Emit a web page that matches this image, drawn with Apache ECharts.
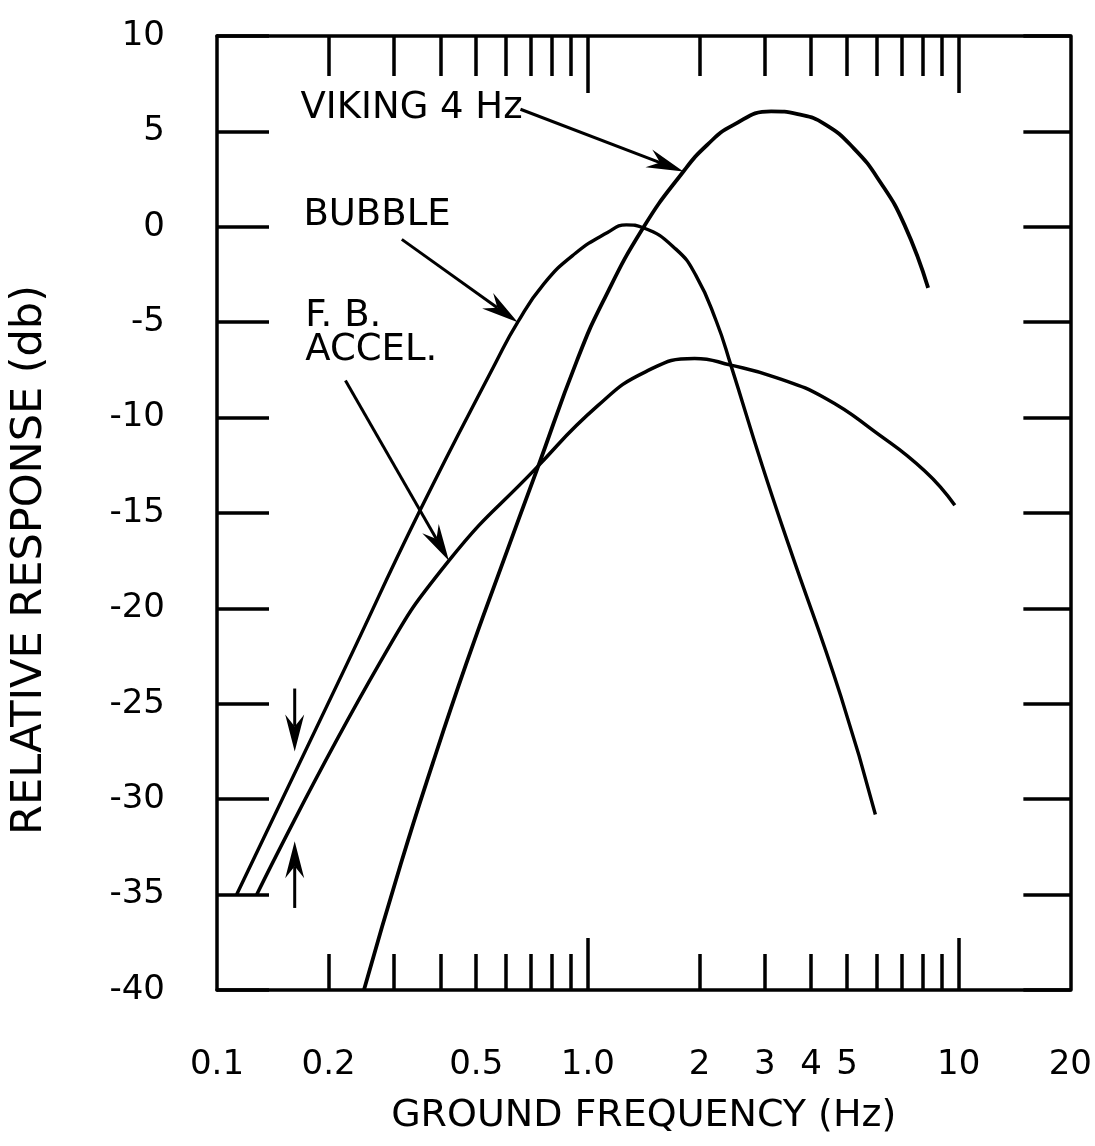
<!DOCTYPE html>
<html>
<head>
<meta charset="utf-8">
<title>Relative response vs ground frequency</title>
<script src="https://cdn.jsdelivr.net/npm/echarts@6/dist/echarts.min.js"></script>
<style>
  html, body { margin: 0; padding: 0; background: #fff; }
  #chart { width: 1095px; height: 1146px; }
</style>
</head>
<body>
<div id="chart"></div>
<script>
// values: frequency in Hz, response in dB
const vikingFreq = [0.249, 0.313, 0.382, 0.470, 0.582, 0.73, 0.935, 1.10, 1.41, 1.81, 2.10, 2.45, 3.12, 3.68, 4.34, 5.22, 6.14, 7.14, 8.27];
const vikingDb = [-40.0, -33.4, -28.1, -22.9, -17.9, -12.7, -7.0, -3.9, -0.05, 2.9, 4.3, 5.3, 6.05, 5.9, 5.4, 4.1, 2.35, 0.1, -3.2];

const bubbleFreq = [0.113, 0.223, 0.352, 0.565, 0.647, 0.76, 0.924, 1.13, 1.27, 1.41, 1.727, 1.957, 2.22, 2.43, 2.95, 3.49, 4.81, 5.96];
const bubbleDb = [-35, -23.0, -14.9, -7.1, -5.0, -3.0, -1.4, -0.3, 0.1, -0.05, -1.17, -2.56, -4.95, -7.25, -12.5, -16.75, -24.6, -30.8];

const accelFreq = [0.128, 0.274, 0.422, 0.721, 1.06, 1.43, 1.94, 2.43, 3.22, 4.38, 5.95, 8.1, 9.76];
const accelDb = [-35, -22.9, -17.5, -12.7, -9.4, -7.6, -6.9, -7.25, -7.9, -9.0, -10.75, -12.8, -14.6];

const freqTicks = [0.1, 0.2, 0.5, 1, 2, 3, 4, 5, 10, 20];
const freqTickLabels = ['0.1', '0.2', '0.5', '1.0', '2', '3', '4', '5', '10', '20'];
const gridTicks = [0.2, 0.3, 0.4, 0.5, 0.6, 0.7, 0.8, 0.9, 2, 3, 4, 5, 6, 7, 8, 9];
const decadeTicks = [1, 10];

// [from Hz, from dB, to Hz, to dB]
const arrows = [
  [0.658, 6.16, 1.81, 2.9],
  [0.315, -0.66, 0.647, -5.0],
  [0.222, -8.05, 0.422, -17.5],
  [0.162, -24.2, 0.162, -27.5],
  [0.162, -35.7, 0.162, -32.2]
];

const noteText = ['VIKING 4 Hz', 'BUBBLE', 'F. B.', 'ACCEL.'];
const noteFreq = [0.168, 0.171, 0.173, 0.173];
const noteDb = [6.2, 0.6, -4.7, -6.5];

const ink = '#000';
const font = 'DejaVu Sans';

function pairs(xs, ys) {
  return xs.map((x, i) => [x, ys[i]]);
}

function freqLabel(value) {
  const i = freqTicks.findIndex(v => Math.abs(Math.log10(v / value)) < 1e-6);
  return i < 0 ? '' : freqTickLabels[i];
}

function renderArrow(params, api) {
  const from = api.coord([api.value(0), api.value(1)]);
  const to = api.coord([api.value(2), api.value(3)]);
  const dx = to[0] - from[0];
  const dy = to[1] - from[1];
  const len = Math.hypot(dx, dy);
  const ux = dx / len;
  const uy = dy / len;
  const headLen = 37;
  const half = 9.5;
  const notch = 25;
  const base = [to[0] - ux * headLen, to[1] - uy * headLen];
  const back = [to[0] - ux * notch, to[1] - uy * notch];
  return {
    type: 'group',
    children: [
      {
        type: 'line',
        shape: { x1: from[0], y1: from[1], x2: back[0], y2: back[1] },
        style: { stroke: ink, lineWidth: 3 }
      },
      {
        type: 'polygon',
        shape: { points: [to, [base[0] - uy * half, base[1] + ux * half], back, [base[0] + uy * half, base[1] - ux * half]] },
        style: { fill: ink }
      }
    ]
  };
}

function renderNote(params, api) {
  const p = api.coord([api.value(0), api.value(1)]);
  return {
    type: 'text',
    x: p[0],
    y: p[1],
    style: {
      text: noteText[params.dataIndex],
      fill: ink,
      fontSize: 37,
      fontFamily: font,
      align: 'left',
      verticalAlign: 'middle'
    }
  };
}

const freqAxis = {
  type: 'log',
  logBase: 10,
  min: 0.1,
  max: 20,
  splitLine: { show: false },
  axisLine: { show: false, onZero: false },
  axisTick: { show: false },
  axisLabel: { show: false }
};

const frameLine = { show: true, onZero: false, lineStyle: { color: ink, width: 3.5 } };

const curve = {
  type: 'line',
  smooth: 0.5,
  smoothConstraint: false,
  showSymbol: false
};

const chart = echarts.init(document.getElementById('chart'));

const option = {
  backgroundColor: '#fff',
  animation: false,
  grid: { left: 209, right: 14, top: 36, bottom: 156 },
  xAxis: [
    {
      ...freqAxis,
      position: 'bottom',
      axisLine: frameLine,
      axisTick: { show: true, inside: true, length: 36, customValues: gridTicks, lineStyle: { color: ink, width: 3.5 } },
      axisLabel: {
        show: true,
        customValues: freqTicks,
        formatter: freqLabel,
        margin: 58,
        color: ink,
        fontSize: 34,
        fontFamily: font
      },
      name: 'GROUND FREQUENCY (Hz)',
      nameLocation: 'middle',
      nameGap: 107,
      nameTextStyle: { color: ink, fontSize: 38, fontFamily: font }
    },
    {
      ...freqAxis,
      position: 'bottom',
      axisTick: { show: true, inside: true, length: 52, customValues: decadeTicks, lineStyle: { color: ink, width: 3.5 } }
    },
    {
      ...freqAxis,
      position: 'top',
      axisLine: frameLine,
      axisTick: { show: true, inside: true, length: 40, customValues: gridTicks, lineStyle: { color: ink, width: 3.5 } }
    },
    {
      ...freqAxis,
      position: 'top',
      axisTick: { show: true, inside: true, length: 57, customValues: decadeTicks, lineStyle: { color: ink, width: 3.5 } }
    }
  ],
  yAxis: [
    {
      type: 'value',
      position: 'left',
      min: -40,
      max: 10,
      interval: 5,
      splitLine: { show: false },
      axisLine: frameLine,
      axisTick: { show: true, inside: true, length: 52, lineStyle: { color: ink, width: 3.5 } },
      axisLabel: { margin: 52, color: ink, fontSize: 34, fontFamily: font },
      name: 'RELATIVE RESPONSE (db)',
      nameLocation: 'middle',
      nameRotate: 90,
      nameGap: 166,
      nameTextStyle: { color: ink, fontSize: 43, fontFamily: font, padding: [0, 94, 0, 0] }
    },
    {
      type: 'value',
      position: 'right',
      min: -40,
      max: 10,
      interval: 5,
      splitLine: { show: false },
      axisLine: frameLine,
      axisTick: { show: true, inside: true, length: 47, lineStyle: { color: ink, width: 3.5 } },
      axisLabel: { show: false }
    }
  ],
  series: [
    {
      ...curve,
      name: 'Viking 4 Hz',
      data: pairs(vikingFreq, vikingDb),
      lineStyle: { color: ink, width: 3.8 }
    },
    {
      ...curve,
      name: 'Bubble',
      data: pairs(bubbleFreq, bubbleDb),
      lineStyle: { color: ink, width: 3.4 }
    },
    {
      ...curve,
      name: 'F.B. Accel.',
      data: pairs(accelFreq, accelDb),
      lineStyle: { color: ink, width: 3.5 }
    },
    {
      type: 'custom',
      renderItem: renderArrow,
      data: arrows,
      encode: { x: [0, 2], y: [1, 3] },
      silent: true
    },
    {
      type: 'custom',
      renderItem: renderNote,
      data: pairs(noteFreq, noteDb),
      silent: true
    }
  ]
};

chart.setOption(option);
</script>
</body>
</html>
